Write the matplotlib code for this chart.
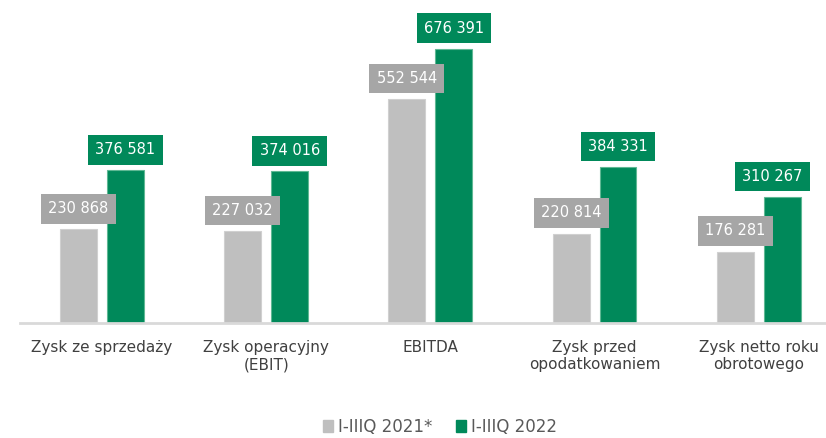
import numpy as np
import matplotlib.pyplot as plt
from matplotlib.patches import Patch

# -----------------------------
# Data
# -----------------------------
categories = ["Zysk ze sprzedaży", "Zysk operacyjny\n(EBIT)", "EBITDA",
              "Zysk przed\nopodatkowaniem", "Zysk netto roku\nobrotowego"]
values_2021 = [230868, 227032, 552544, 220814, 176281]
values_2022 = [376581, 374016, 676391, 384331, 310267]
series_names = ["I-IIIQ 2021*", "I-IIIQ 2022"]

GRAY = "#bfbfbf"
GRAY_BOX = "#a6a6a6"
GREEN = "#00895a"


def fmt(v):
    return f"{v:,}".replace(",", " ")


plt.rcParams['font.family'] = ['DejaVu Sans']

fig = plt.figure(figsize=(8.26, 4.38), dpi=100)
ax = fig.add_axes([20 / 826, 115 / 438, 806 / 826, 323 / 438])

x = np.arange(len(categories))
w = 0.225
off = 0.143

ax.bar(x - off, values_2021, w, color=GRAY, edgecolor="#d0d0d0", linewidth=0.8)
ax.bar(x + off, values_2022, w, color=GREEN, edgecolor="#5fb894", linewidth=0.8)

ax.set_xlim(-0.5, 4.41)
ax.set_ylim(0, 797000)

# value labels in boxes
pad = 51000
for i in range(len(categories)):
    ax.text(x[i] - off, values_2021[i] + pad, fmt(values_2021[i]), ha="center", va="center",
            fontsize=10.5, color="white",
            bbox=dict(boxstyle="square,pad=0.5", facecolor=GRAY_BOX, edgecolor="none"))
    # keep the last box inside the figure
    gx = x[i] + off - (0.06 if i == len(categories) - 1 else 0)
    ax.text(gx, values_2022[i] + pad, fmt(values_2022[i]), ha="center", va="center",
            fontsize=10.5, color="white",
            bbox=dict(boxstyle="square,pad=0.5", facecolor=GREEN, edgecolor="none"))

for s in ["top", "right", "left"]:
    ax.spines[s].set_visible(False)
ax.spines["bottom"].set_color("#d9d9d9")
ax.spines["bottom"].set_linewidth(2)
ax.set_yticks([])
ax.set_xticks(x)
ax.set_xticklabels(categories, fontsize=11, color="#404040", linespacing=1.2)
ax.tick_params(axis="x", length=0, pad=12)

handles = [Patch(color=GRAY), Patch(color=GREEN)]
fig.legend(handles, series_names, loc="center", bbox_to_anchor=(440 / 826, 1 - 427 / 438),
           ncol=2, frameon=False, fontsize=12, labelcolor="#595959",
           handlelength=0.6, handleheight=0.7, handletextpad=0.3, columnspacing=1.4)

fig.savefig("out.png", dpi=100)
